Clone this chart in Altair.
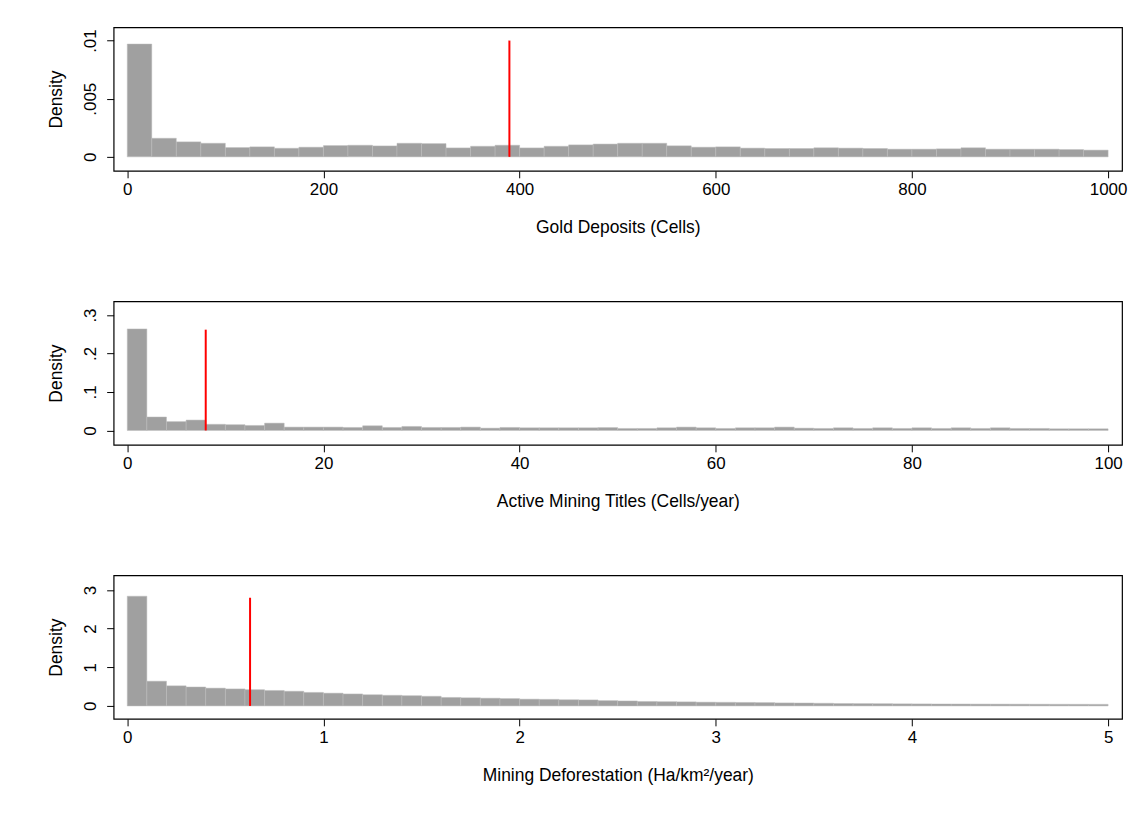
import altair as alt
import pandas as pd

# ---- data ----
gold_bin_width = 25
gold_density = [0.0097, 0.0016, 0.00129, 0.00117, 0.0008, 0.00086, 0.00074, 0.00083,
                0.00097, 0.0010, 0.00094, 0.00117, 0.00114, 0.00077, 0.00091, 0.0010,
                0.00077, 0.00091, 0.00103, 0.0011, 0.00117, 0.00117, 0.00095, 0.00083,
                0.00086, 0.00075, 0.00072, 0.00072, 0.00078, 0.00075, 0.00072, 0.00066,
                0.00066, 0.00069, 0.00078, 0.00066, 0.00066, 0.00066, 0.00063, 0.00058]
gold_mean = 389.6
gold_line_top = 0.01

titles_bin_width = 2
titles_density = [0.264, 0.035, 0.023, 0.027, 0.016, 0.015, 0.013, 0.019, 0.0087, 0.0087,
                  0.0087, 0.0078, 0.012, 0.0078, 0.0104, 0.0078, 0.0078, 0.0087, 0.006, 0.0078,
                  0.0069, 0.0069, 0.0069, 0.0069, 0.0075, 0.0052, 0.0052, 0.0069, 0.0087, 0.0069,
                  0.0052, 0.0069, 0.0069, 0.0087, 0.006, 0.0052, 0.0069, 0.0052, 0.0069, 0.0052,
                  0.0069, 0.0052, 0.0069, 0.0052, 0.0069, 0.0052, 0.0052, 0.0043, 0.0043, 0.0043]
titles_mean = 8.0
titles_line_top = 0.262

defor_bin_width = 0.1
defor_density = [2.84, 0.64, 0.52, 0.49, 0.46, 0.44, 0.42, 0.40, 0.38, 0.35,
                 0.33, 0.31, 0.29, 0.275, 0.265, 0.25, 0.22, 0.21, 0.20, 0.19,
                 0.175, 0.17, 0.16, 0.155, 0.137, 0.13, 0.115, 0.11, 0.105, 0.097,
                 0.094, 0.09, 0.086, 0.078, 0.075, 0.069, 0.062, 0.06, 0.058, 0.054,
                 0.052, 0.05, 0.049, 0.047, 0.046, 0.045, 0.044, 0.043, 0.042, 0.041]
defor_mean = 0.626
defor_line_top = 2.80

FONT = "Liberation Sans"
W, H = 1012, 144


def panel(density, bw, mean, line_top, xdom, xticks, ydom, yticks, xtitle, ylabel_expr=None):
    df = pd.DataFrame({
        "x0": [i * bw for i in range(len(density))],
        "x1": [(i + 1) * bw for i in range(len(density))],
        "d": density,
        "z": [0.0] * len(density),
    })
    yaxis = dict(values=yticks, title="Density", labelAngle=270, labelAlign="center",
                 labelBaseline="bottom", labelPadding=7, titlePadding=16)
    if ylabel_expr:
        yaxis["labelExpr"] = ylabel_expr
    bars = alt.Chart(df).mark_rect(color="#a0a0a0", stroke="#bdbdbd", strokeWidth=0.5).encode(
        x=alt.X("x0:Q", scale=alt.Scale(domain=xdom, nice=False, zero=False),
                axis=alt.Axis(values=xticks, title=xtitle, format="d", labelPadding=4,
                              titlePadding=21)),
        x2="x1:Q",
        y=alt.Y("d:Q", scale=alt.Scale(domain=ydom, nice=False, zero=False),
                axis=alt.Axis(**yaxis)),
        y2="z:Q",
    )
    rdf = pd.DataFrame({"x": [mean], "y0": [0.0], "y1": [line_top]})
    rule = alt.Chart(rdf).mark_rule(color="#ff0000", strokeWidth=2).encode(
        x="x:Q", y="y0:Q", y2="y1:Q")
    return alt.layer(bars, rule).properties(width=W, height=H)


dot_expr = "replace(format(datum.value, '~g'), '0.', '.')"

p1 = panel(gold_density, gold_bin_width, gold_mean, gold_line_top,
           [-13.9, 1014.2], [0, 200, 400, 600, 800, 1000],
           [-0.0012, 0.01114], [0, 0.005, 0.01], "Gold Deposits (Cells)", dot_expr)
p2 = panel(titles_density, titles_bin_width, titles_mean, titles_line_top,
           [-1.39, 101.42], [0, 20, 40, 60, 80, 100],
           [-0.0374, 0.3356], [0, 0.1, 0.2, 0.3], "Active Mining Titles (Cells/year)", dot_expr)
p3 = panel(defor_density, defor_bin_width, defor_mean, defor_line_top,
           [-0.0695, 5.071], [0, 1, 2, 3, 4, 5],
           [-0.335, 3.379], [0, 1, 2, 3], "Mining Deforestation (Ha/km²/year)")

chart = alt.vconcat(p1, p2, p3, spacing=63).properties(
    padding={"left": 39, "top": 17, "right": 5, "bottom": 5},
    background="white",
).configure_view(
    stroke="black", strokeWidth=1.2
).configure_axis(
    grid=False, domain=False, ticks=True, tickColor="black", tickSize=7, tickWidth=1,
    labelFont=FONT, titleFont=FONT, labelFontSize=17, titleFontSize=17.5,
    labelColor="black", titleColor="black", titleFontWeight="normal"
)

chart.save("out.html", embed_options={"renderer": "svg", "actions": False})
